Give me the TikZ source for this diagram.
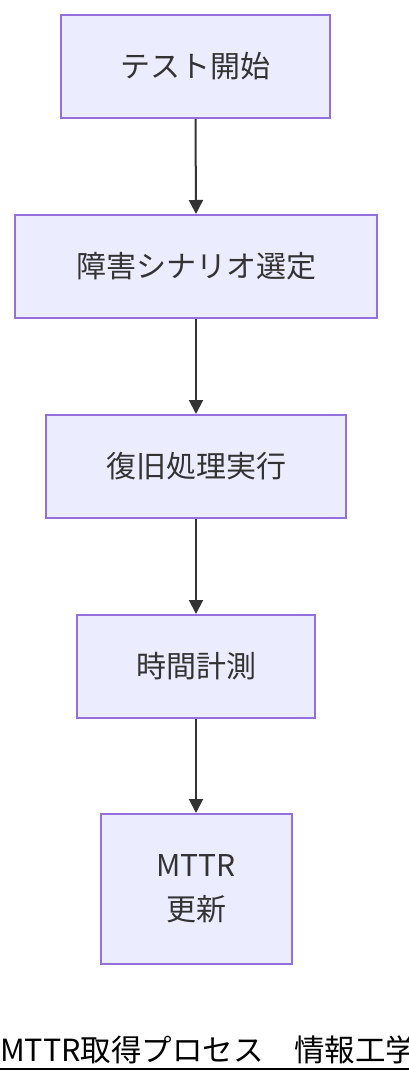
\documentclass[tikz,border=0pt]{standalone}
\usepackage{fontspec}
\setmainfont{Noto Sans CJK JP}
\usetikzlibrary{arrows.meta}
\definecolor{boxfill}{HTML}{ECECFF}
\definecolor{boxline}{HTML}{9370DB}
\definecolor{ink}{HTML}{333333}
\tikzset{
  flowbox/.style={draw=boxline, fill=boxfill, line width=2pt, inner sep=0pt,
    minimum height=103pt, text=ink, font=\fontsize{30}{44}\selectfont, align=center},
  flowarrow/.style={draw=ink, line width=2pt, -{Triangle[length=14pt,width=14pt]}}
}
\begin{document}
\begin{tikzpicture}[x=1pt,y=-1pt]
\useasboundingbox[fill=white] (0,0) rectangle (408,1084);
\node[flowbox, minimum width=269pt] (n1) at (195.5,66.5) {テスト開始};
\node[flowbox, minimum width=362pt] (n2) at (196,266.5) {障害シナリオ選定};
\node[flowbox, minimum width=300pt] (n3) at (196,466.5) {復旧処理実行};
\node[flowbox, minimum width=238pt] (n4) at (196,666.5) {時間計測};
\node[flowbox, minimum width=191pt, minimum height=150pt] (n5) at (196,889) {MTTR\\更新};
\draw[flowarrow] (n1.south) -- (n2.north);
\draw[flowarrow] (n2.south) -- (n3.north);
\draw[flowarrow] (n3.south) -- (n4.north);
\draw[flowarrow] (n4.south) -- (n5.north);
\node[anchor=base west, inner sep=0pt, font=\fontsize{30.5}{30}\selectfont, text=black] (title) at (0,1061) {MTTR取得プロセス　情報工学};
\coordinate (ulA) at (0,1069);
\coordinate (ulB) at (420,1069);
\draw[black, line width=2.5pt] (ulA) -- (ulB);
\end{tikzpicture}
\end{document}
